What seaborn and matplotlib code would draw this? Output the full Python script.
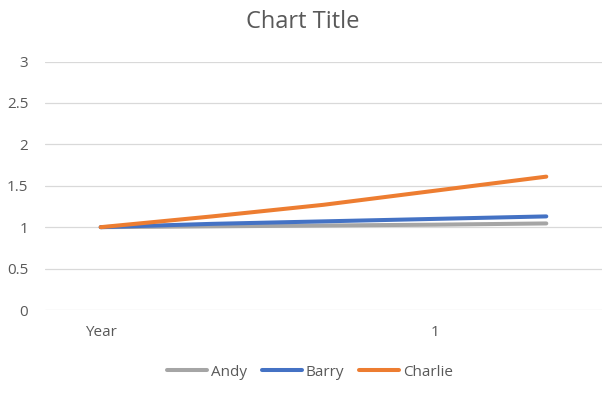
import matplotlib
matplotlib.use("Agg")
import matplotlib.pyplot as plt
import seaborn as sns
import pandas as pd

categories = ["Year", "", "", "1", ""]
andy = [1.00, 1.01, 1.02, 1.03, 1.045]
barry = [1.00, 1.04, 1.07, 1.10, 1.13]
charlie = [1.00, 1.13, 1.27, 1.44, 1.61]
series_names = ["Andy", "Barry", "Charlie"]
y_ticks = [0, 0.5, 1, 1.5, 2, 2.5, 3]
y_tick_labels = ["0", "0.5", "1", "1.5", "2", "2.5", "3"]
colors = ["#A5A5A5", "#4472C4", "#ED7D31"]

rows = []
for name, vals in zip(series_names, [andy, barry, charlie]):
    for i, v in enumerate(vals):
        rows.append({"pos": i, "value": v, "series": name})
df = pd.DataFrame(rows)

sns.set_theme(style="white")
plt.rcParams["font.family"] = ["Open Sans", "DejaVu Sans"]

fig = plt.figure(figsize=(6.06, 3.94), dpi=100)
ax = fig.add_axes([45/606, 1-310/394, (602-45)/606, (310-61.5)/394])

sns.lineplot(data=df, x="pos", y="value", hue="series", palette=colors,
             hue_order=series_names, linewidth=2.9, ax=ax, legend=False,
             solid_capstyle="round")

ax.set_xlim(-0.5, 4.5)
ax.set_ylim(0, 3)
ax.set_yticks(y_ticks)
ax.set_yticklabels(y_tick_labels)
ax.set_xticks(range(len(categories)))
ax.set_xticklabels(categories)
ax.tick_params(axis="both", length=0, labelsize=11, labelcolor="#595959")
ax.tick_params(axis="y", pad=12)
ax.tick_params(axis="x", pad=11)
ax.set_xlabel("")
ax.set_ylabel("")
for s in ax.spines.values():
    s.set_visible(False)
ax.grid(axis="y", color="#D9D9D9", linewidth=0.9)
ax.set_axisbelow(True)

fig.text(0.5, 1-22/394, "Chart Title", ha="center", va="center",
         fontsize=17, color="#595959")

handles = [plt.Line2D([0], [0], color=c, lw=2.9) for c in colors]
fig.legend(handles, series_names, loc="center", bbox_to_anchor=(310/606, 1-372/394),
           ncol=3, frameon=False, fontsize=11, labelcolor="#595959",
           handlelength=2.6, handletextpad=0.25, columnspacing=1.0)

fig.savefig("out.png", dpi=100)
